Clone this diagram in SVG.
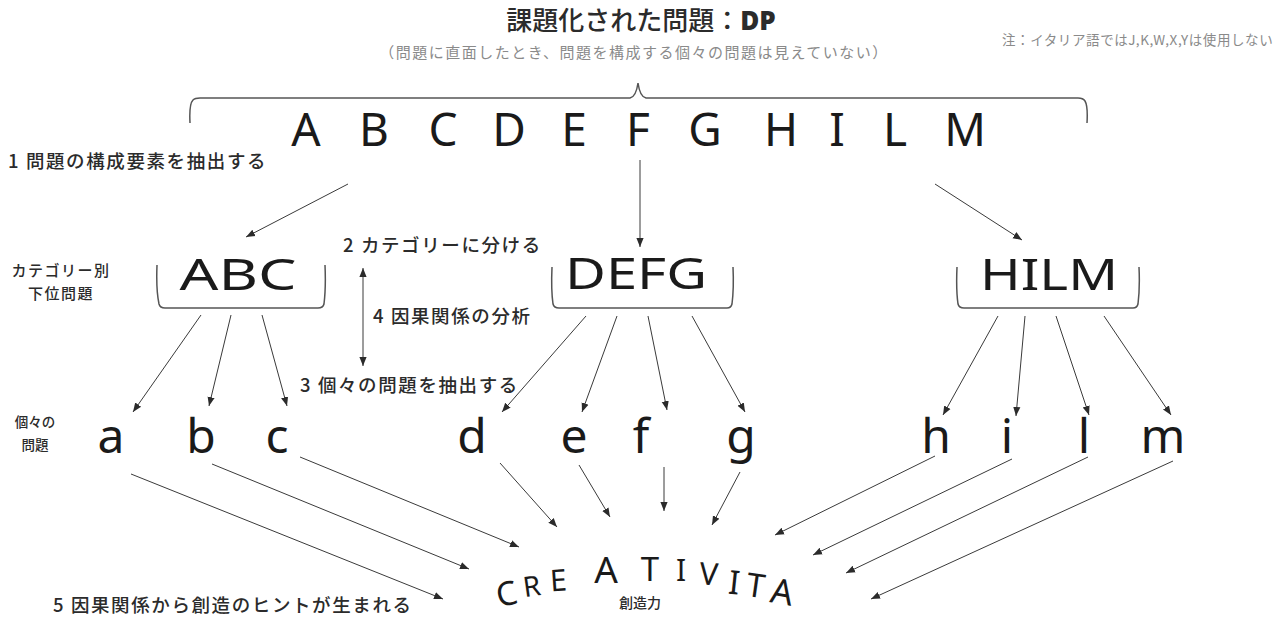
<svg xmlns="http://www.w3.org/2000/svg" width="1288" height="617" viewBox="0 0 1288 617">
<style>
.jp{font-family:"Noto Sans CJK JP","Noto Sans",sans-serif;fill:#2b2b2b;font-weight:500}
.gray{font-family:"Noto Sans CJK JP","Noto Sans",sans-serif;fill:#8a8a8a;font-weight:400}
.hand{font-family:"Noto Sans","DejaVu Sans",sans-serif;fill:#1a1a1a;text-anchor:middle}
.br{fill:none;stroke:#555;stroke-width:1.5}
.ar{stroke:#3a3a3a;stroke-width:1;fill:none;marker-end:url(#ah)}
</style>
<defs>
<marker id="ah" viewBox="0 0 10 10" refX="10" refY="5" markerWidth="9" markerHeight="9" markerUnits="userSpaceOnUse" orient="auto-start-reverse"><path d="M0,1 L10,5 L0,9 z" fill="#2b2b2b"/></marker>
</defs>
<rect width="1288" height="617" fill="#fff"/>

<g id="title">
<text x="641" y="30" text-anchor="middle" class="jp" font-size="26" font-weight="700" fill="#333">課題化された問題：<tspan font-family="Noto Sans, sans-serif" font-weight="900">DP</tspan></text>
<text x="634" y="58" text-anchor="middle" class="gray" font-size="15" letter-spacing="1.5">（問題に直面したとき、問題を構成する個々の問題は見えていない）</text>
</g>
<g id="note"><text x="1002" y="45" class="gray" font-size="13.5" letter-spacing="0.6">注：イタリア語ではJ,K,W,X,Yは使用しない</text></g>

<g id="brace"><path class="br" d="M190,123 Q189,104 193,100 Q195,98 200,98 L630,98 Q636,97 638,83 Q640,97 646,98 L1078,98 Q1083,98 1085,101 Q1088,106 1087,123"/></g>

<g id="letters" font-size="46">
<text class="hand" x="306" y="146">A</text>
<text class="hand" x="374" y="146">B</text>
<text class="hand" x="443" y="146">C</text>
<text class="hand" x="509" y="146">D</text>
<text class="hand" x="574" y="146">E</text>
<text class="hand" x="638" y="146">F</text>
<text class="hand" x="705" y="146">G</text>
<text class="hand" x="781" y="146">H</text>
<text class="hand" x="837" y="146">I</text>
<text class="hand" x="895" y="146">L</text>
<text class="hand" x="965" y="146">M</text>
</g>

<g id="step1"><text x="8" y="168" class="jp" font-size="18.5" letter-spacing="1.6">1 問題の構成要素を抽出する</text></g>
<g id="step2"><text x="343" y="252" class="jp" font-size="18.5" letter-spacing="1.6">2 カテゴリーに分ける</text></g>
<g id="step4"><text x="373" y="323" class="jp" font-size="18.5" letter-spacing="1.6">4 因果関係の分析</text></g>
<g id="step3"><text x="300" y="392" class="jp" font-size="18.5" letter-spacing="1.6">3 個々の問題を抽出する</text></g>
<g id="step5"><text x="53" y="612" class="jp" font-size="18.5" letter-spacing="1.6">5 因果関係から創造のヒントが生まれる</text></g>

<g id="lbl-cat" font-size="15" text-anchor="middle">
<text x="61" y="276" class="jp" letter-spacing="1.5">カテゴリー別</text>
<text x="61" y="299" class="jp" letter-spacing="1.5">下位問題</text>
</g>
<g id="lbl-ind" font-size="13.5" text-anchor="middle">
<text x="35" y="427" class="jp">個々の</text>
<text x="35" y="450" class="jp">問題</text>
</g>

<g id="cat-abc">
<path class="br" d="M157,265 Q156,290 159,304 Q160,308 165,308 L318,308 Q323,308 324,304 Q326,288 325,265"/>
<text class="hand" x="238" y="290" font-size="44" textLength="117" lengthAdjust="spacingAndGlyphs">ABC</text>
</g>
<g id="cat-defg">
<path class="br" d="M552,267 Q551,290 553,304 Q554,308 559,308 L727,308 Q731,308 732,304 Q734,288 733,267"/>
<text class="hand" x="636" y="289" font-size="44" textLength="142" lengthAdjust="spacingAndGlyphs">DEFG</text>
</g>
<g id="cat-hilm">
<path class="br" d="M957,267 Q956,290 958,304 Q959,308 964,308 L1133,308 Q1137,308 1138,304 Q1140,288 1139,267"/>
<text class="hand" x="1049" y="290" font-size="44" textLength="138" lengthAdjust="spacingAndGlyphs">HILM</text>
</g>

<g id="small" font-size="48">
<text class="hand" x="111" y="453">a</text>
<text class="hand" x="201" y="453">b</text>
<text class="hand" x="277" y="453">c</text>
<text class="hand" x="472" y="453">d</text>
<text class="hand" x="574" y="453">e</text>
<text class="hand" x="641" y="453">f</text>
<text class="hand" x="741" y="453">g</text>
<text class="hand" x="936" y="453">h</text>
<text class="hand" x="1007" y="453">i</text>
<text class="hand" x="1084" y="453">l</text>
<text class="hand" x="1163" y="453">m</text>
</g>

<g id="creativita">
<text class="hand" font-size="33" transform="translate(509,605) rotate(-12)">C</text>
<text class="hand" font-size="28" transform="translate(533,596) rotate(-8)">R</text>
<text class="hand" font-size="30" transform="translate(559,591) rotate(-4)">E</text>
<text class="hand" font-size="37" transform="translate(606,583)">A</text>
<text class="hand" font-size="33" transform="translate(650,581)">T</text>
<text class="hand" font-size="30" transform="translate(681,581)">I</text>
<text class="hand" font-size="31" transform="translate(708,585) rotate(4)">V</text>
<text class="hand" font-size="33" transform="translate(733,594) rotate(6)">I</text>
<text class="hand" font-size="33" transform="translate(754,597) rotate(8)">T</text>
<text class="hand" font-size="35" transform="translate(780,604) rotate(10)">A</text>
<text x="640" y="608" text-anchor="middle" class="jp" font-size="14">創造力</text>
</g>

<g id="connectors">
<line class="ar" x1="348" y1="184" x2="246" y2="237"/>
<line class="ar" x1="640" y1="160" x2="640" y2="247"/>
<line class="ar" x1="935" y1="184" x2="1022" y2="240"/>
<line class="ar" x1="363" y1="268" x2="363" y2="366" marker-start="url(#ah)"/>
<line class="ar" x1="201" y1="315" x2="133" y2="412"/>
<line class="ar" x1="231" y1="315" x2="209" y2="406"/>
<line class="ar" x1="262" y1="315" x2="287" y2="406"/>
<line class="ar" x1="586" y1="316" x2="502" y2="412"/>
<line class="ar" x1="617" y1="316" x2="582" y2="412"/>
<line class="ar" x1="648" y1="316" x2="667" y2="410"/>
<line class="ar" x1="692" y1="316" x2="745" y2="412"/>
<line class="ar" x1="998" y1="316" x2="943" y2="415"/>
<line class="ar" x1="1025" y1="316" x2="1016" y2="416"/>
<line class="ar" x1="1056" y1="316" x2="1089" y2="415"/>
<line class="ar" x1="1104" y1="316" x2="1171" y2="415"/>
<line class="ar" x1="131" y1="474" x2="443" y2="599"/>
<line class="ar" x1="212" y1="464" x2="469" y2="569"/>
<line class="ar" x1="300" y1="457" x2="519" y2="547"/>
<line class="ar" x1="500" y1="463" x2="557" y2="527"/>
<line class="ar" x1="579" y1="465" x2="610" y2="517"/>
<line class="ar" x1="664" y1="467" x2="664" y2="511"/>
<line class="ar" x1="740" y1="472" x2="712" y2="525"/>
<line class="ar" x1="935" y1="456" x2="775" y2="535"/>
<line class="ar" x1="1012" y1="459" x2="813" y2="555"/>
<line class="ar" x1="1088" y1="457" x2="846" y2="573"/>
<line class="ar" x1="1173" y1="461" x2="871" y2="599"/>
</g>
</svg>
